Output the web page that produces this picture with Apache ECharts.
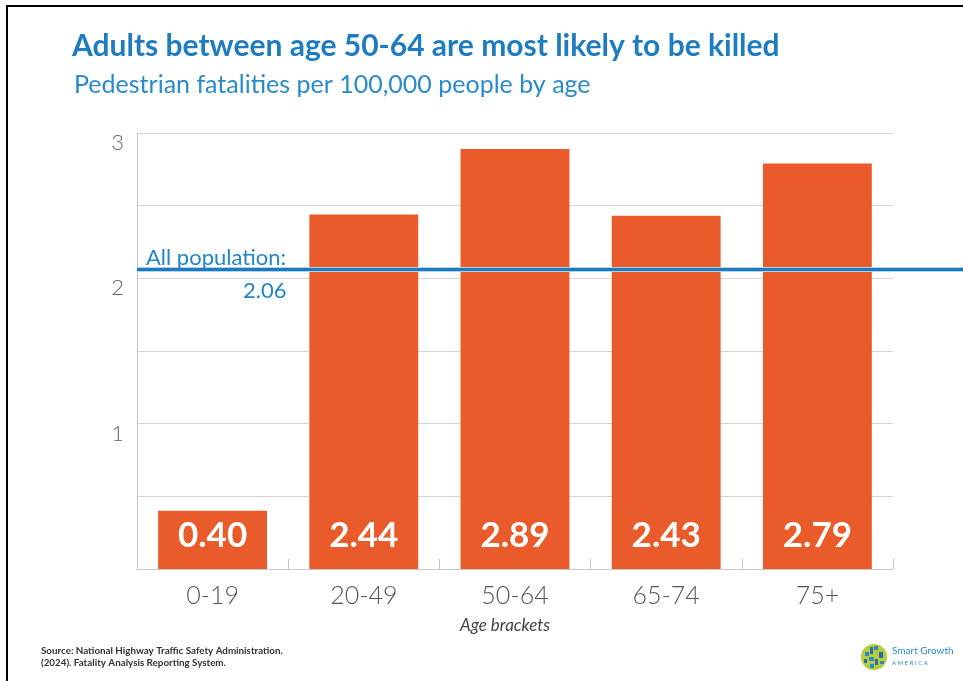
<!DOCTYPE html>
<html>
<head>
<meta charset="utf-8">
<script src="https://cdn.jsdelivr.net/npm/echarts@6/dist/echarts.min.js"></script>
<style>
html,body{margin:0;padding:0;background:#fff;}
#chart{width:963px;height:681px;}
</style>
</head>
<body>
<div id="chart"></div>
<script>
// ---- data ----
var categories = ['0-19', '20-49', '50-64', '65-74', '75+'];
var fatalityRates = [0.40, 2.44, 2.89, 2.43, 2.79];
var allPopulationRate = 2.06;
var yTicks = [0, 1, 2, 3];

var titleText = 'Adults between age 50-64 are most likely to be killed';
var subtitleText = 'Pedestrian fatalities per 100,000 people by age';
var xAxisName = 'Age brackets';
var sourceLines = ['Source: National Highway Traffic Safety Administration.', '(2024). Fatality Analysis Reporting System.'];

var FONT = 'Lato, "Noto Sans", sans-serif';
var BLUE = '#1e7dc1';
var ORANGE = '#e95b2b';

var chart = echarts.init(document.getElementById('chart'), null, {renderer: 'canvas'});

var option = {
  backgroundColor: '#ffffff',
  animation: false,
  title: [
    {text: titleText, left: 67, top: 26, padding: 5,
     textStyle: {fontFamily: FONT, fontSize: 30, fontWeight: 'bold', color: BLUE}},
    {text: subtitleText, left: 69, top: 67, padding: 5,
     textStyle: {fontFamily: FONT, fontSize: 25, fontWeight: 'normal', color: '#2a8bcb'}}
  ],
  grid: [
    {left: 137, right: 70, top: 133, bottom: 112, containLabel: false},
    {left: 137, right: 0, top: 133, bottom: 112, containLabel: false}
  ],
  xAxis: [
    {type: 'category', gridIndex: 0, data: categories,
     name: xAxisName, nameLocation: 'middle', nameGap: 48,
     nameTextStyle: {fontFamily: FONT, fontSize: 17, fontStyle: 'italic', color: '#444', padding: [0, 20, 0, 0]},
     axisLine: {show: true, lineStyle: {color: '#c8c8c8', width: 1}},
     axisTick: {show: true, inside: true, length: 10, lineStyle: {color: '#c8c8c8'}},
     axisLabel: {fontFamily: FONT, fontSize: 25, fontWeight: 300, color: '#555', margin: 14}},
    {type: 'value', gridIndex: 1, min: 0, max: 1, show: false}
  ],
  yAxis: [
    {type: 'value', gridIndex: 0, min: 0, max: 3, interval: 0.5,
     axisLine: {show: true, lineStyle: {color: '#c8c8c8', width: 1}},
     axisTick: {show: false},
     splitLine: {show: true, lineStyle: {color: '#d4d4d4', width: 1}},
     axisLabel: {fontFamily: FONT, fontSize: 22, fontWeight: 300, color: '#666', margin: 13,
       verticalAlign: 'top', lineHeight: 20,
       formatter: function (v) { return yTicks.indexOf(v) >= 0 && v !== 0 ? String(v) : ''; }}},
    {type: 'value', gridIndex: 1, min: 0, max: 3, show: false}
  ],
  series: [
    {type: 'bar', xAxisIndex: 0, yAxisIndex: 0, data: fatalityRates, barWidth: '72%',
     itemStyle: {color: ORANGE},
     label: {show: true, position: 'insideBottom', distance: 15,
       fontFamily: FONT, fontSize: 35, fontWeight: 'bold', color: '#fff', lineHeight: 36,
       formatter: function (p) { return p.value.toFixed(2); }}},
    {type: 'line', xAxisIndex: 1, yAxisIndex: 1, data: [], silent: true,
     markLine: {symbol: 'none', silent: true, animation: false,
       data: [
         [{coord: [0, allPopulationRate], lineStyle: {color: '#b4d3ea', width: 5, type: 'solid'}, label: {show: false}},
          {coord: [1, allPopulationRate]}],
         [{coord: [0, allPopulationRate], lineStyle: {color: '#1c7bc0', width: 3, type: 'solid'},
           label: {show: true, position: 'insideStartTop', formatter: 'All population:', distance: [9, 1],
             fontFamily: FONT, fontSize: 22, color: '#2285c7'}},
          {coord: [1, allPopulationRate]}],
         [{coord: [0, allPopulationRate], lineStyle: {color: 'rgba(0,0,0,0)', width: 1, type: 'solid'},
           label: {show: true, position: 'insideEndBottom', formatter: allPopulationRate.toFixed(2), distance: [0, 10],
             fontFamily: FONT, fontSize: 22, color: '#2285c7'}},
          {coord: [0.181, allPopulationRate]}]
       ]}}
  ],
  graphic: [
    {type: 'line', shape: {x1: 6, y1: 6, x2: 963, y2: 6}, style: {stroke: '#000', lineWidth: 2}},
    {type: 'line', shape: {x1: 7, y1: 5, x2: 7, y2: 681}, style: {stroke: '#000', lineWidth: 2}},
    {type: 'text', left: 41, top: 645,
     style: {text: sourceLines.join('\n'), fontFamily: FONT, fontSize: 9.8, fontWeight: 'bold', fill: '#333', lineHeight: 12}},
    {type: 'group', left: 861, top: 644, children: [
      {type: 'circle', shape: {cx: 14, cy: 14, r: 13}, style: {fill: '#b7cb3c'}},
      {type: 'rect', shape: {x: 5, y: 9, width: 4, height: 4}, style: {fill: '#2b8bc9'}},
      {type: 'rect', shape: {x: 10, y: 4, width: 3, height: 7}, style: {fill: '#1f6fb0'}},
      {type: 'rect', shape: {x: 14, y: 3, width: 4, height: 4}, style: {fill: '#2b8bc9'}},
      {type: 'rect', shape: {x: 19, y: 9, width: 4, height: 6}, style: {fill: '#1f6fb0'}},
      {type: 'rect', shape: {x: 9, y: 14, width: 5, height: 4}, style: {fill: '#2b8bc9'}},
      {type: 'rect', shape: {x: 15, y: 16, width: 3, height: 6}, style: {fill: '#1f6fb0'}},
      {type: 'rect', shape: {x: 4, y: 16, width: 3, height: 4}, style: {fill: '#1f6fb0'}},
      {type: 'rect', shape: {x: 10, y: 21, width: 4, height: 4}, style: {fill: '#2b8bc9'}},
      {type: 'rect', shape: {x: 20, y: 18, width: 4, height: 3}, style: {fill: '#2b8bc9'}},
      {type: 'text', x: 32, y: 3, style: {text: 'Smart Growth', fontFamily: FONT, fontSize: 10, fill: '#2b8bc9'}},
      {type: 'text', x: 32, y: 17, style: {text: 'A M E R I C A', fontFamily: FONT, fontSize: 6, fill: '#2b8bc9'}}
    ]}
  ]
};
chart.setOption(option);
</script>
</body>
</html>
